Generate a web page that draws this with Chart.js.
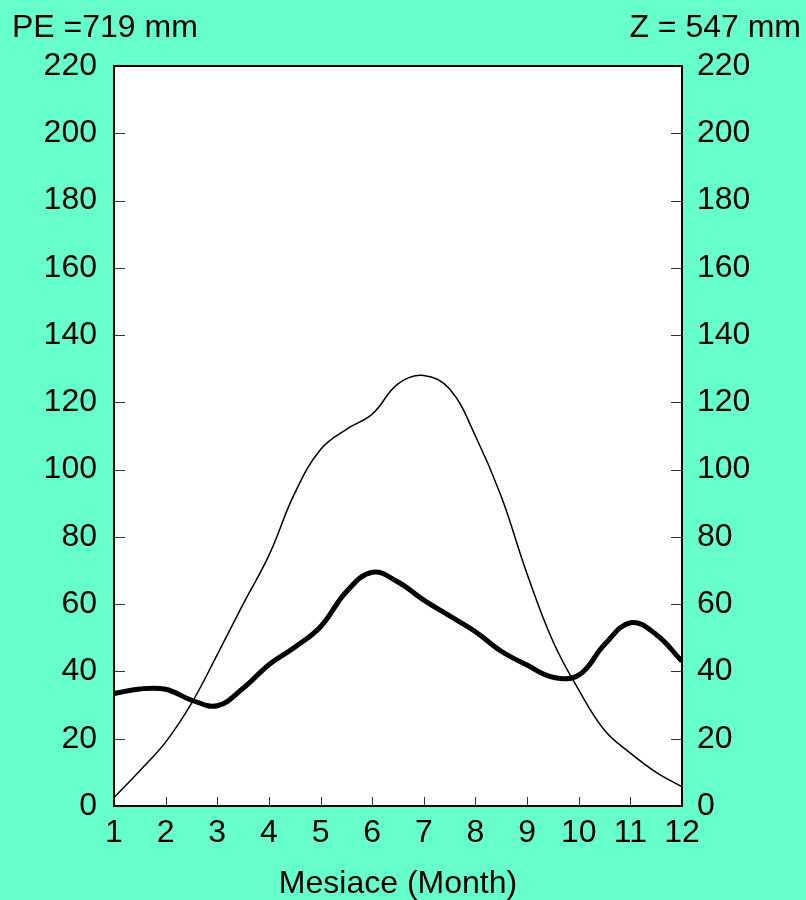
<!DOCTYPE html>
<html>
<head>
<meta charset="utf-8">
<script src="https://cdn.jsdelivr.net/npm/chart.js@4.4.1/dist/chart.umd.min.js"></script>
<style>
  html, body { margin: 0; padding: 0; background: #66ffcc; }
  #wrap { width: 806px; height: 900px; position: relative; }
</style>
</head>
<body>
<div id="wrap"><canvas id="klimaChart"></canvas></div>
<script>
// half-month steps, 1 = January ... 12 = December
const months = [1, 1.5, 2, 2.5, 3, 3.5, 4, 4.5, 5, 5.5, 6, 6.5, 7, 7.5, 8, 8.5, 9, 9.5, 10, 10.5, 11, 11.5, 12];
// potential evapotranspiration (thin line)
const peValues = [2.5, 10.5, 19, 30.5, 45, 60, 74.5, 93, 106, 112, 116.5, 125.5, 128, 124, 110, 92, 69, 49, 34.5, 22.5, 15.7, 10, 5.7];
// precipitation (thick line)
const zValues = [33.4, 34.8, 34.7, 31.5, 29.8, 35, 42, 47.2, 53.3, 63.7, 69.5, 66.6, 61.2, 56.5, 51.8, 46, 41.9, 38.3, 38.9, 48, 54.5, 51, 43];
const monthTicks = [1, 2, 3, 4, 5, 6, 7, 8, 9, 10, 11, 12];
const yTicks = [0, 20, 40, 60, 80, 100, 120, 140, 160, 180, 200, 220];

const FONT = '"Liberation Sans", Arial, sans-serif';

const toPoints = (vals) => vals.map((v, i) => ({ x: months[i], y: v }));

const frame = {
  id: 'frame',
  beforeDraw(chart) {
    const c = chart.ctx, a = chart.chartArea;
    c.save();
    c.fillStyle = '#66ffcc';
    c.fillRect(0, 0, chart.width, chart.height);
    c.fillStyle = '#ffffff';
    c.fillRect(a.left, a.top, a.right - a.left, a.bottom - a.top);
    c.restore();
  },
  afterDraw(chart) {
    const c = chart.ctx, a = chart.chartArea;
    const x = chart.scales.x, yl = chart.scales.y, yr = chart.scales.y2;
    c.save();
    // inward tick marks
    c.strokeStyle = '#333333';
    c.lineWidth = 1;
    c.beginPath();
    yTicks.forEach(v => {
      const py = Math.round(yl.getPixelForValue(v)) + 0.5;
      c.moveTo(a.left, py); c.lineTo(a.left + 11, py);
      const pr = Math.round(yr.getPixelForValue(v)) + 0.5;
      c.moveTo(a.right - 11, pr); c.lineTo(a.right, pr);
    });
    monthTicks.forEach(m => {
      const px = Math.round(x.getPixelForValue(m)) + 0.5;
      c.moveTo(px, a.bottom); c.lineTo(px, a.bottom - 9);
    });
    c.stroke();
    // frame
    c.strokeStyle = '#000000';
    c.lineWidth = 2;
    c.strokeRect(a.left, a.top, a.right - a.left, a.bottom - a.top);
    // corner labels
    c.fillStyle = '#000000';
    c.font = '32px ' + FONT;
    c.textBaseline = 'alphabetic';
    c.textAlign = 'left';
    c.fillText('PE =719 mm', 12, 37);
    c.textAlign = 'right';
    c.fillText('Z = 547 mm', 801, 37);
    c.restore();
  }
};

new Chart(document.getElementById('klimaChart'), {
  type: 'line',
  data: {
    datasets: [
      {
        label: 'PE',
        data: toPoints(peValues),
        borderColor: '#000000',
        borderWidth: 1.5,
        pointRadius: 0,
        tension: 0.4,
        fill: false,
        yAxisID: 'y'
      },
      {
        label: 'Z',
        data: toPoints(zValues),
        borderColor: '#000000',
        borderWidth: 5,
        pointRadius: 0,
        tension: 0.4,
        fill: false,
        yAxisID: 'y'
      }
    ]
  },
  options: {
    responsive: true,
    maintainAspectRatio: false,
    animation: false,
    layout: { padding: { top: 66, left: 0, right: 0, bottom: 0 } },
    plugins: {
      legend: { display: false },
      tooltip: { enabled: false }
    },
    scales: {
      x: {
        type: 'linear',
        min: 1,
        max: 12,
        afterFit: (s) => { s.height = 94; },
        afterBuildTicks: (s) => { s.ticks = monthTicks.map(v => ({ value: v })); },
        grid: { display: false, drawTicks: false },
        border: { display: false },
        ticks: {
          color: '#000000',
          padding: 8,
          maxRotation: 0,
          autoSkip: false,
          font: { family: FONT, size: 32, lineHeight: 1.2 }
        },
        title: {
          display: true,
          text: 'Mesiace (Month)',
          color: '#000000',
          padding: { top: 0, bottom: 0 },
          font: { family: FONT, size: 32, lineHeight: 1.0 }
        }
      },
      y: {
        position: 'left',
        min: 0,
        max: 220,
        afterFit: (s) => { s.width = 114; },
        afterBuildTicks: (s) => { s.ticks = yTicks.map(v => ({ value: v })); },
        grid: { display: false, drawTicks: false },
        border: { display: false },
        ticks: {
          color: '#000000',
          padding: 17,
          font: { family: FONT, size: 32, lineHeight: 1.2 }
        }
      },
      y2: {
        position: 'right',
        min: 0,
        max: 220,
        afterFit: (s) => { s.width = 124; },
        afterBuildTicks: (s) => { s.ticks = yTicks.map(v => ({ value: v })); },
        grid: { display: false, drawTicks: false },
        border: { display: false },
        ticks: {
          color: '#000000',
          padding: 15,
          font: { family: FONT, size: 32, lineHeight: 1.2 }
        }
      }
    }
  },
  plugins: [frame]
});
</script>
</body>
</html>
